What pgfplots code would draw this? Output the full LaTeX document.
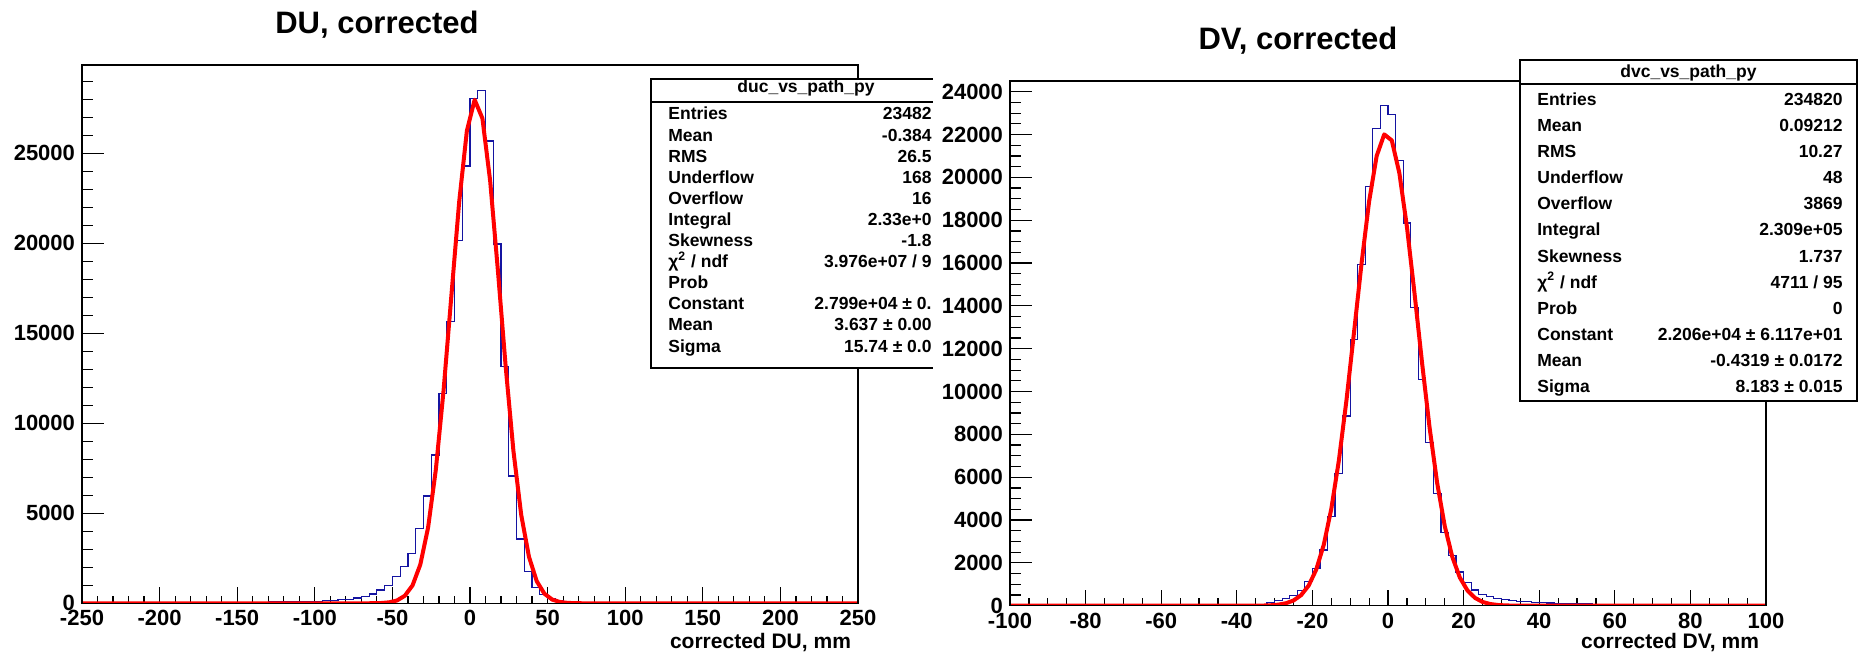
\documentclass[border=0pt]{standalone}
\usepackage{fontspec}
\setmainfont{Liberation Sans}
\usepackage{pgfplots}
\usepackage{pgfplotstable}
\pgfplotsset{compat=1.18}

\definecolor{histblue}{rgb}{0.08,0.08,0.63}
\definecolor{fitred}{rgb}{1,0,0}

% ---------- histogram contents (lower bin edge, entries) ----------
\pgfplotstableread{
x y
-250 22
-245 23
-240 24
-235 25
-230 26
-225 27
-220 28
-215 29
-210 30
-205 32
-200 33
-195 35
-190 36
-185 38
-180 40
-175 42
-170 44
-165 46
-160 48
-155 51
-150 54
-145 57
-140 60
-135 64
-130 68
-125 73
-120 79
-115 86
-110 95
-105 106
-100 120
-95 138
-90 160
-85 190
-80 230
-75 290
-70 380
-65 520
-60 740
-55 980
-50 1480
-45 2040
-40 2780
-35 4140
-30 5960
-25 8240
-20 11670
-15 15640
-10 20140
-5 24290
0 28020
5 28480
10 25680
15 19960
20 13140
25 7070
30 3570
35 1760
40 870
45 500
50 280
55 160
60 100
65 70
70 52
75 42
80 35
85 30
90 26
95 23
100 20
105 18
110 17
115 16
120 15
125 14
130 13
135 12
140 12
145 11
150 10
155 10
160 9
165 9
170 8
175 8
180 8
185 7
190 7
195 6
200 6
205 6
210 5
215 5
220 5
225 5
230 4
235 4
240 4
245 4
250 4
}\histDU

\pgfplotstableread{
x y
-100 1
-98 1
-96 1
-94 1
-92 1
-90 1
-88 1
-86 2
-84 2
-82 2
-80 2
-78 2
-76 2
-74 3
-72 3
-70 3
-68 3
-66 4
-64 4
-62 4
-60 5
-58 5
-56 6
-54 6
-52 7
-50 8
-48 9
-46 10
-44 11
-42 13
-40 15
-38 22
-36 35
-34 60
-32 140
-30 240
-28 330
-26 470
-24 700
-22 1130
-20 1730
-18 2600
-16 4160
-14 6190
-12 8860
-10 12420
-8 15950
-6 19580
-4 22280
-2 23360
0 22920
2 20790
4 17870
6 13940
8 10550
10 7620
12 5250
14 3410
16 2340
18 1570
20 1080
22 730
24 530
26 420
28 350
30 290
32 250
34 205
36 180
38 160
40 140
42 125
44 110
46 100
48 92
50 85
52 78
54 72
56 66
58 61
60 57
62 53
64 50
66 47
68 44
70 42
72 40
74 38
76 36
78 34
80 33
82 32
84 31
86 30
88 29
90 28
92 27
94 26
96 25
98 25
100 25
}\histDV

\pgfplotsset{
  rootbase/.style={
    scale only axis,
    axis line style={black, line width=0.65bp},
    tick align=inside,
    xtick pos=left, ytick pos=left,
    scaled x ticks=false, scaled y ticks=false,
    tick style={black, line width=0.6bp},
    ticklabel style={font=\bfseries\fontsize{11bp}{13bp}\selectfont, text=black},
    xlabel style={font=\bfseries\fontsize{10.5bp}{13bp}\selectfont,
      at={(axis description cs:1,0)}, anchor=base east},
  },
  % frame carrying the data and the x ticks
  rootx/.style={rootbase,
    major tick length=8bp, minor tick length=3.75bp,
    ytick=\empty, minor ytick={},
  },
  % frame carrying the y ticks
  rooty/.style={rootbase,
    major tick length=11bp, minor tick length=5.5bp,
    xtick=\empty, minor xtick={},
  },
}

\newcommand{\statfont}{\bfseries\fontsize{8.75bp}{11bp}\selectfont}

\begin{document}
\begin{tikzpicture}
\useasboundingbox (0,0) rectangle (929.5bp,326.5bp);

% ---------------- DU panel ----------------
\pgfplotsset{duframe/.style={
  at={(41bp,24.85bp)}, anchor=south west,
  width=388bp, height=269.15bp,
  xmin=-250, xmax=250, ymin=0, ymax=29900}}
\begin{axis}[rootx, duframe,
  xtick={-250,-200,-150,-100,-50,0,50,100,150,200,250},
  xticklabels={-250,-200,-150,-100,-50,0,50,100,150,200,250},
  minor xtick={-250,-240,...,250},
  xlabel={corrected DU, mm},
  xlabel style={yshift=-22.5bp},
]
\addplot[const plot, histblue, line width=0.6bp] table[x=x, y=y] {\histDU};
\addplot[fitred, line width=2bp, line join=round] coordinates {
  (-250,0) (-67,1) (-62,4.7) (-57,16.8) (-52,54) (-47,158) (-42,418)
  (-37,999) (-32,2157) (-27,4210) (-22,7429) (-17,11851) (-12,17088)
  (-7,22278) (-2,26252) (3,27967) (8,26935) (13,23453) (18,18460)
  (23,13133) (28,8450) (33,4912) (38,2582) (43,1227) (48,527) (53,205)
  (58,72) (63,23) (68,6.5) (73,1.5) (250,0)
};
\end{axis}
\begin{axis}[rooty, duframe,
  ytick={0,5000,10000,15000,20000,25000},
  yticklabels={0,5000,10000,15000,20000,25000},
  minor ytick={0,1000,...,29000},
]
\end{axis}

% ---------------- DV panel ----------------
\pgfplotsset{dvframe/.style={
  at={(505bp,23.65bp)}, anchor=south west,
  width=378bp, height=262.35bp,
  xmin=-100, xmax=100, ymin=0, ymax=24500}}
\begin{axis}[rootx, dvframe,
  xtick={-100,-80,...,100},
  xticklabels={-100,-80,-60,-40,-20,0,20,40,60,80,100},
  minor xtick={-100,-95,...,100},
  xlabel={corrected DV, mm},
  xlabel style={yshift=-21.15bp},
]
\addplot[const plot, histblue, line width=0.6bp] table[x=x, y=y] {\histDV};
\addplot[fitred, line width=2bp, line join=round] coordinates {
  (-100,0) (-37,1) (-35,2.9) (-33,8) (-31,20.6) (-29,49.8) (-27,113.5)
  (-25,243) (-23,492) (-21,937) (-19,1681) (-17,2841) (-15,4523)
  (-13,6782) (-11,9581) (-9,12750) (-7,15985) (-5,18877) (-3,21000)
  (-1,22007) (1,21725) (3,20203) (5,17698) (7,14605) (9,11353)
  (11,8314) (13,5735) (15,3727) (17,2282) (19,1315) (21,715) (23,366)
  (25,176) (27,80) (29,34) (31,13.8) (33,5.2) (35,1.9) (37,0.6) (100,0)
};
\end{axis}
\begin{axis}[rooty, dvframe,
  ytick={0,2000,...,24000},
  yticklabels={0,2000,4000,6000,8000,10000,12000,14000,16000,18000,20000,22000,24000},
  minor ytick={0,500,...,24500},
]
\end{axis}

% ---------------- titles and statistics boxes (pixel grid) ----------------
\begin{scope}[shift={(0,326.5bp)}, x=0.5bp, y=-0.5bp]
  \node[anchor=base, font=\bfseries\fontsize{15.5bp}{18bp}\selectfont] at (377,33.3) {DU, corrected};
  \node[anchor=base, font=\bfseries\fontsize{15.5bp}{18bp}\selectfont] at (1298,50) {DV, corrected};

  % DU statistics, cut by the pad edge
  \begin{scope}
    \clip (0,0) rectangle (933,653);
    \draw[fill=white, line width=0.7bp] (651,79) rectangle (961,368);
    \draw[line width=0.7bp] (651,102) -- (961,102);
    \node[anchor=base, font=\statfont] at (806,92.7) {duc\_vs\_path\_py};
    \foreach \lab/\val [count=\i from 0] in {
      Entries/23482, Mean/-0.384, RMS/26.5, Underflow/168, Overflow/16,
      Integral/2.33e+0, Skewness/-1.8, {χ\textsuperscript{2} / ndf}/{3.976e+07 / 9},
      Prob/{}, Constant/{2.799e+04 ± 0.}, Mean/{3.637 ± 0.00}, Sigma/{15.74 ± 0.0}} {
      \node[anchor=base west, font=\statfont, inner sep=0pt] at (668,120+21.1*\i) {\lab};
      \node[anchor=base east, font=\statfont, inner sep=0pt] at (932,120+21.1*\i) {\val};
    }
  \end{scope}

  % DV statistics
  \draw[fill=white, line width=0.7bp] (1520,60) rectangle (1857,401);
  \draw[line width=0.7bp] (1520,84) -- (1857,84);
  \node[anchor=base, font=\statfont] at (1688.5,78) {dvc\_vs\_path\_py};
  \foreach \lab/\val [count=\i from 0] in {
    Entries/234820, Mean/0.09212, RMS/10.27, Underflow/48, Overflow/3869,
    Integral/2.309e+05, Skewness/1.737, {χ\textsuperscript{2} / ndf}/{4711 / 95},
    Prob/0, Constant/{2.206e+04 ± 6.117e+01}, Mean/{-0.4319 ± 0.0172},
    Sigma/{8.183 ± 0.015}} {
    \node[anchor=base west, font=\statfont, inner sep=0pt] at (1537,105.5+26.1*\i) {\lab};
    \node[anchor=base east, font=\statfont, inner sep=0pt] at (1843,105.5+26.1*\i) {\val};
  }
\end{scope}
\end{tikzpicture}
\end{document}
